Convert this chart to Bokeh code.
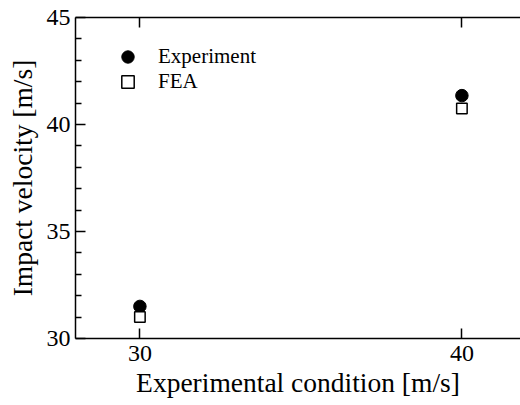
from bokeh.plotting import figure
from bokeh.models import Range1d, LinearAxis, FixedTicker, Legend, LegendItem
from bokeh.embed import file_html
from bokeh.resources import INLINE

# data
conditions = [30, 40]
experiment = [31.5, 41.35]
fea = [31.0, 40.75]
x_ticks = [30, 40]
y_ticks = [30, 35, 40, 45]
y_minor_ticks = [31, 32, 33, 34, 36, 37, 38, 39, 41, 42, 43, 44]

FONT = "'Liberation Serif', serif"

p = figure(width=520, height=400, output_backend="svg", toolbar_location=None,
           x_range=Range1d(28, 41.82), y_range=Range1d(30, 45),
           x_axis_type=None, y_axis_type=None,
           min_border_left=75, min_border_top=17, min_border_right=0, min_border_bottom=62)
p.xgrid.visible = False
p.ygrid.visible = False
p.outline_line_color = None
p.background_fill_color = "white"
p.border_fill_color = "white"


def style(ax, ticks, minor, show_labels):
    ax.ticker = FixedTicker(ticks=ticks, minor_ticks=minor)
    ax.axis_line_width = 1.5
    ax.axis_line_color = "black"
    ax.major_tick_line_width = 1.5
    ax.minor_tick_line_width = 1.5
    ax.major_tick_in = 10
    ax.major_tick_out = 0
    ax.minor_tick_in = 6
    ax.minor_tick_out = 0
    ax.major_label_text_font = FONT
    ax.axis_label_text_font = FONT
    ax.axis_label_text_font_style = "normal"
    ax.major_label_text_color = "black"
    ax.axis_label_text_color = "black"
    if not show_labels:
        ax.major_label_overrides = {t: "" for t in ticks}
        ax.major_label_standoff = 0


xb = LinearAxis(axis_label="Experimental condition [m/s]")
style(xb, x_ticks, [], True)
xb.major_label_text_font_size = "24px"
xb.axis_label_text_font_size = "27.5px"
xb.major_label_standoff = 7
xb.axis_label_standoff = 3
p.add_layout(xb, "below")

yl = LinearAxis(axis_label="Impact velocity [m/s]")
style(yl, y_ticks, y_minor_ticks, True)
yl.major_label_text_font_size = "24px"
yl.axis_label_text_font_size = "27.5px"
yl.major_label_standoff = 5
yl.axis_label_standoff = 6
p.add_layout(yl, "left")

xt = LinearAxis()
style(xt, x_ticks, [], False)
p.add_layout(xt, "above")

r1 = p.scatter(conditions, experiment, marker="circle", size=12.5,
               fill_color="black", line_color="black", line_width=1)
r2 = p.scatter(conditions, fea, marker="square", size=10.5,
               fill_color="white", line_color="black", line_width=1.5)


def make_legend(label, renderer, loc):
    return Legend(items=[LegendItem(label=label, renderers=[renderer])],
                  location=loc, border_line_color=None,
                  background_fill_alpha=0, padding=0, margin=0, spacing=0,
                  glyph_width=31, glyph_height=31, label_height=31,
                  label_standoff=15, label_text_font=FONT,
                  label_text_font_size="21px", label_text_color="black")


p.add_layout(make_legend("Experiment", r1, (37, 266)))
p.add_layout(make_legend("FEA", r2, (37, 241)))

open("out.html", "w").write(file_html(p, INLINE))
